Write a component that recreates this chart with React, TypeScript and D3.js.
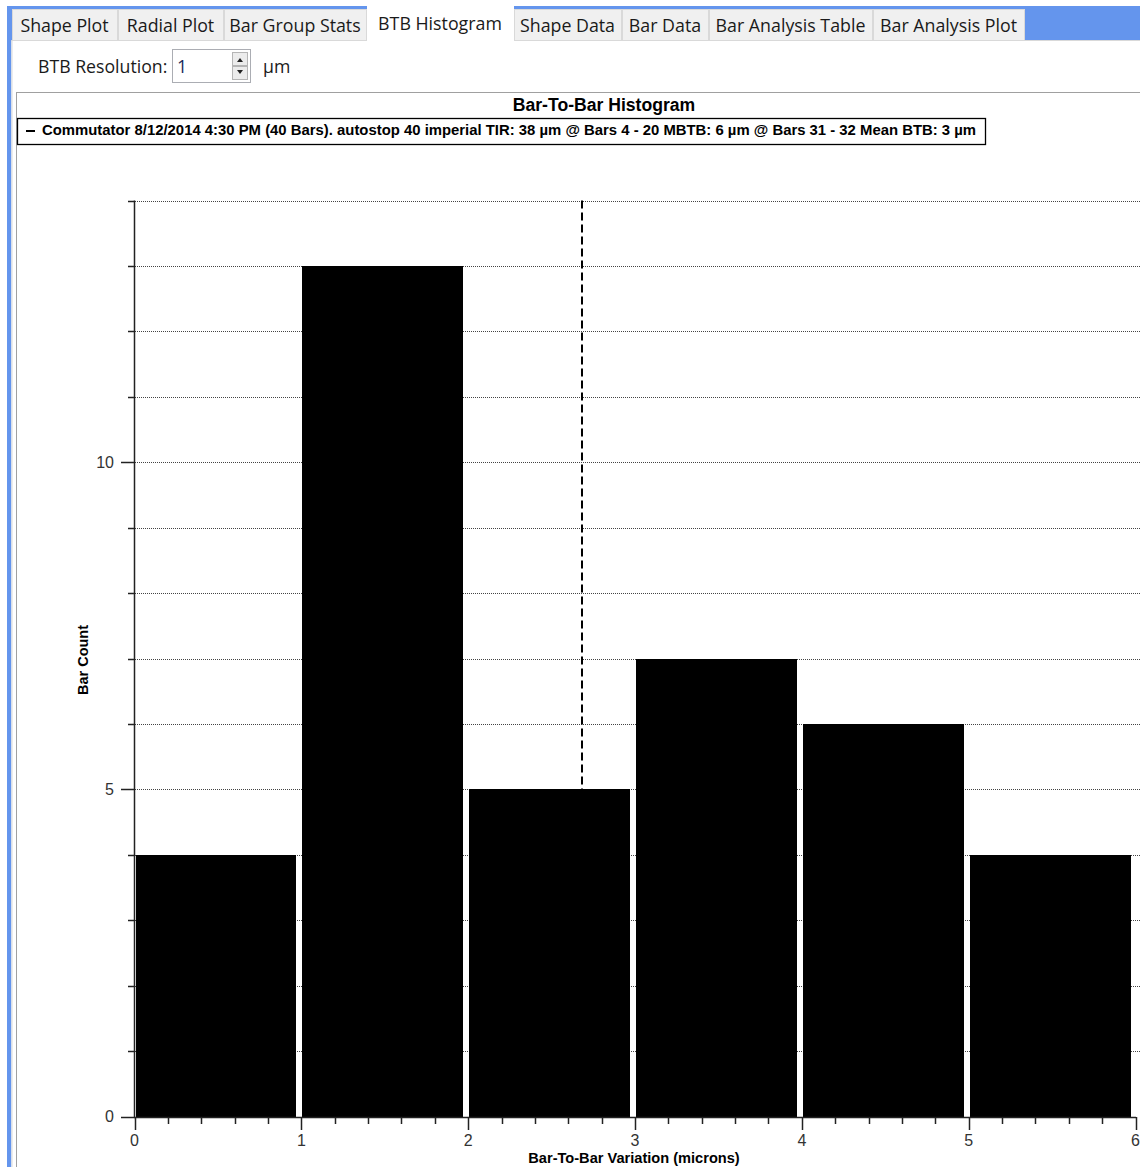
import React from "react";
import * as d3 from "d3";

// ---- data ----
const binStarts = [0, 1, 2, 3, 4, 5];
const binWidth = 1;
const barCounts = [4, 13, 5, 7, 6, 4];
const meanBTB = 2.68;
const yDomain = [0, 14];
const xDomain = [0, 6];
const yLabelTicks = [0, 5, 10];
const xLabelTicks = [0, 1, 2, 3, 4, 5, 6];
const chartTitle = "Bar-To-Bar Histogram";
const legendText =
  "Commutator 8/12/2014 4:30 PM (40 Bars). autostop 40 imperial TIR: 38 µm @ Bars 4 - 20 MBTB: 6 µm @ Bars 31 - 32 Mean BTB: 3 µm";
const xAxisTitle = "Bar-To-Bar Variation (microns)";
const yAxisTitle = "Bar Count";
const tabLabels = [
  "Shape Plot",
  "Radial Plot",
  "Bar Group Stats",
  "BTB Histogram",
  "Shape Data",
  "Bar Data",
  "Bar Analysis Table",
  "Bar Analysis Plot",
];
const tabEdges = [12, 118, 224, 367, 514, 622, 709, 873, 1025];
const activeTab = 3;

const W = 1140;
const H = 1167;
const UI_FONT = "'Open Sans', 'Noto Sans', sans-serif";
const CH_FONT = "'Liberation Sans', Arial, sans-serif";

export default function App() {
  const x = d3.scaleLinear().domain(xDomain).range([134.5, 1135.5]);
  const y = d3.scaleLinear().domain(yDomain).range([1116.5, 200.5]);

  const gridVals = d3.range(yDomain[0] + 1, yDomain[1] + 1);
  const yMinor = d3.range(yDomain[0], yDomain[1] + 1);
  const xMinor = d3.range(0, 30 + 1).map((i) => i * 0.2).filter((v) => Math.abs(v - Math.round(v)) > 1e-6);

  const axisColor = "#222";

  return (
    <svg
      width={W}
      height={H}
      style={{ position: "absolute", left: 0, top: 0, background: "#fff" }}
      xmlns="http://www.w3.org/2000/svg"
    >
      <rect x={0} y={0} width={W} height={H} fill="#fff" />
      {/* window frame */}
      <rect x={7} y={6} width={W - 7} height={35} fill="#6495ed" />
      <rect x={7} y={6} width={4.5} height={H - 6} fill="#6495ed" />
      <rect x={11.5} y={40} width={W - 11.5} height={H - 40} fill="#fff" />
      <line x1={11.5} y1={40.5} x2={W} y2={40.5} stroke="#d9d9d9" />
      <line x1={12} y1={40} x2={12} y2={H} stroke="#d9d9d9" />

      {/* tabs */}
      {tabLabels.map((t, i) => {
        const x0 = tabEdges[i];
        const x1 = tabEdges[i + 1] - 1;
        const active = i === activeTab;
        const top = active ? 6 : 9;
        const bottom = active ? 41 : 40;
        return (
          <g key={t}>
            <rect
              x={x0 + 0.5}
              y={top + 0.5}
              width={x1 - x0}
              height={bottom - top}
              fill={active ? "#fff" : "#f0f0f0"}
              stroke={active ? "#fff" : "#d9d9d9"}
            />
            <text
              x={(x0 + x1) / 2}
              y={active ? 30 : 32}
              textAnchor="middle"
              fontFamily={UI_FONT}
              fontSize={17.8}
              fill="#1a1a1a"
            >
              {t}
            </text>
          </g>
        );
      })}

      {/* resolution control */}
      <text x={38} y={73} fontFamily={UI_FONT} fontSize={17.7} fill="#1a1a1a">
        BTB Resolution:
      </text>
      <rect x={172.5} y={49.5} width={78} height={33} fill="#fff" stroke="#abadb3" />
      <text x={177} y={73} fontFamily={UI_FONT} fontSize={17.7} fill="#1a2a5a">
        1
      </text>
      <rect x={232.5} y={52.5} width={15} height={13} fill="#ececec" stroke="#b5b5b5" />
      <rect x={232.5} y={66.5} width={15} height={13} fill="#ececec" stroke="#b5b5b5" />
      <path d="M237,62 L243,62 L240,58 Z" fill="#222" />
      <path d="M237,70 L243,70 L240,74 Z" fill="#222" />
      <text x={263} y={73} fontFamily={UI_FONT} fontSize={17.7} fill="#1a1a1a">
        µm
      </text>

      {/* chart panel border */}
      <line x1={16.5} y1={92} x2={16.5} y2={H} stroke="#a0a0a0" />
      <line x1={16} y1={92.5} x2={W} y2={92.5} stroke="#a0a0a0" />

      {/* title */}
      <text x={604} y={111} textAnchor="middle" fontFamily={CH_FONT} fontWeight="bold" fontSize={17.6} fill="#000">
        {chartTitle}
      </text>

      {/* legend */}
      <rect x={17.5} y={118.5} width={968} height={26} fill="#fff" stroke="#000" strokeWidth={1.3} />
      <line x1={26} y1={131} x2={35} y2={131} stroke="#000" strokeWidth={2} />
      <text
        x={42}
        y={135}
        fontFamily={CH_FONT}
        fontWeight="bold"
        fontSize={14.6}
        textLength={934}
        lengthAdjust="spacingAndGlyphs"
        fill="#000"
      >
        {legendText}
      </text>

      {/* gridlines */}
      {gridVals.map((v) => (
        <line
          key={"g" + v}
          x1={135}
          x2={W}
          y1={Math.round(y(v)) + 0.5}
          y2={Math.round(y(v)) + 0.5}
          stroke="#444"
          strokeWidth={1}
          strokeDasharray="1,1"
        />
      ))}

      {/* mean line */}
      <line
        x1={Math.round(x(meanBTB))}
        x2={Math.round(x(meanBTB))}
        y1={y(yDomain[1])}
        y2={y(0)}
        stroke="#000"
        strokeWidth={2}
        strokeDasharray="8,4"
      />

      {/* bars */}
      {binStarts.map((b, i) => {
        const x0 = Math.round(x(b)) + 1;
        const x1 = Math.round(x(b + binWidth)) - 5;
        const yt = Math.round(y(barCounts[i]));
        const yb = Math.round(y(0));
        return <rect key={"b" + i} x={x0} y={yt} width={x1 - x0} height={yb - yt} fill="#000" />;
      })}

      {/* y axis */}
      <line x1={134.5} x2={134.5} y1={y(yDomain[1])} y2={y(0) + 1} stroke={axisColor} strokeWidth={1.5} />
      {yMinor.map((v) => {
        const major = yLabelTicks.includes(v);
        return (
          <line
            key={"yt" + v}
            x1={major ? 121 : 128}
            x2={134.5}
            y1={Math.round(y(v)) + 0.5}
            y2={Math.round(y(v)) + 0.5}
            stroke={axisColor}
            strokeWidth={1.5}
          />
        );
      })}
      {yLabelTicks.map((v) => (
        <text
          key={"yl" + v}
          x={114}
          y={y(v) + 5.5}
          textAnchor="end"
          fontFamily={CH_FONT}
          fontSize={16}
          fill="#333"
        >
          {v}
        </text>
      ))}

      {/* x axis */}
      <line x1={134} x2={1136} y1={1117.5} y2={1117.5} stroke={axisColor} strokeWidth={1.5} />
      {xLabelTicks.map((v) => (
        <line
          key={"xt" + v}
          x1={Math.round(x(v)) + 0.5}
          x2={Math.round(x(v)) + 0.5}
          y1={1117}
          y2={1130}
          stroke={axisColor}
          strokeWidth={1.5}
        />
      ))}
      {xMinor.map((v) => (
        <line
          key={"xm" + v}
          x1={Math.round(x(v)) + 0.5}
          x2={Math.round(x(v)) + 0.5}
          y1={1117}
          y2={1124}
          stroke={axisColor}
          strokeWidth={1.5}
        />
      ))}
      {xLabelTicks.map((v) => (
        <text
          key={"xl" + v}
          x={x(v)}
          y={1146}
          textAnchor="middle"
          fontFamily={CH_FONT}
          fontSize={16}
          fill="#333"
        >
          {v}
        </text>
      ))}

      {/* axis titles */}
      <text x={634} y={1163} textAnchor="middle" fontFamily={CH_FONT} fontWeight="bold" fontSize={14.6} fill="#000">
        {xAxisTitle}
      </text>
      <text
        transform={`translate(88,660) rotate(-90)`}
        textAnchor="middle"
        fontFamily={CH_FONT}
        fontWeight="bold"
        fontSize={14.5}
        fill="#000"
      >
        {yAxisTitle}
      </text>
    </svg>
  );
}
